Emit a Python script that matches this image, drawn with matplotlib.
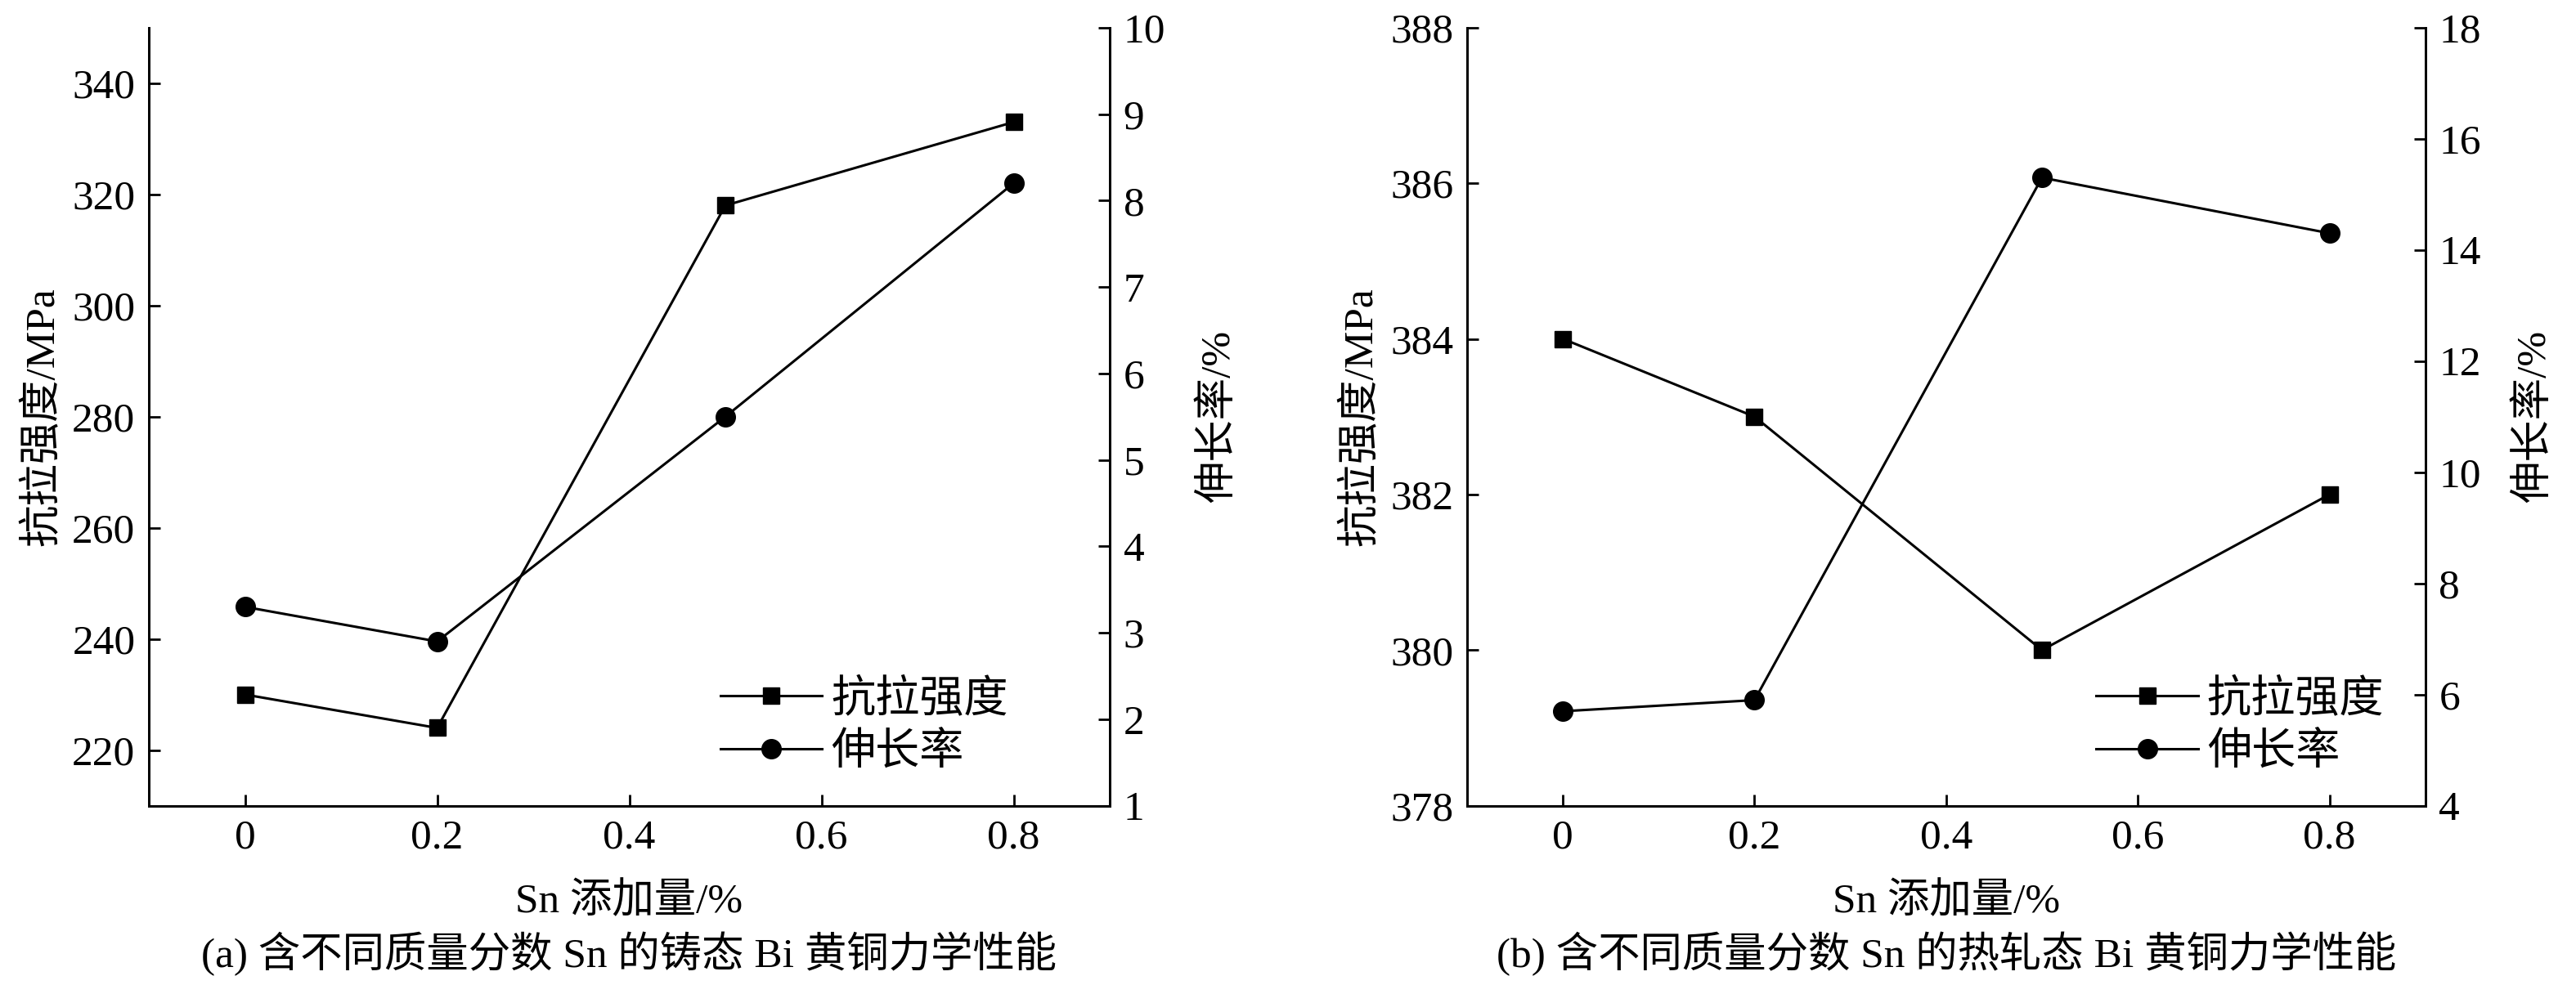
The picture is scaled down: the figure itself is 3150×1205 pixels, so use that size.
import numpy as np
import matplotlib
matplotlib.use("Agg")
import matplotlib.pyplot as plt

plt.rcParams["font.family"] = ["Liberation Serif", "Noto Sans CJK SC"]

sn = [0, 0.2, 0.5, 0.8]
x_ticks = [0, 0.2, 0.4, 0.6, 0.8]
x_ticklabels = ["0", "0.2", "0.4", "0.6", "0.8"]

# (a) cast state
cast_strength = [230, 224, 318, 333]
cast_elong = [3.3, 2.9, 5.5, 8.2]
# (b) hot-rolled state
rolled_strength = [384, 383, 380, 382]
rolled_elong = [5.7, 5.9, 15.3, 14.3]

panels = [
    dict(strength=cast_strength, elong=cast_elong,
         ylim=(210, 350), yticks=np.arange(220, 341, 20),
         y2lim=(1, 10), y2ticks=np.arange(1, 11, 1),
         caption="(a) 含不同质量分数 Sn 的铸态 Bi 黄铜力学性能",
         rect=[0.0578, 0.182, 0.373, 0.790], leg_x=0.553),
    dict(strength=rolled_strength, elong=rolled_elong,
         ylim=(378, 388), yticks=np.arange(378, 389, 2),
         y2lim=(4, 18), y2ticks=np.arange(4, 19, 2),
         caption="(b) 含不同质量分数 Sn 的热轧态 Bi 黄铜力学性能",
         rect=[0.5695, 0.182, 0.372, 0.790], leg_x=0.615),
]

fs = 37
lw = 2.2

fig = plt.figure(figsize=(31.5, 12.05), dpi=100)

for p in panels:
    ax = fig.add_axes(p["rect"])
    ax2 = ax.twinx()
    l1, = ax.plot(sn, p["strength"], color="black", lw=lw, marker="s",
                  markersize=15, label="抗拉强度")
    l2, = ax2.plot(sn, p["elong"], color="black", lw=lw, marker="o",
                   markersize=17, label="伸长率")
    ax.set_xlim(-0.1, 0.9)
    ax.set_ylim(*p["ylim"])
    ax2.set_ylim(*p["y2lim"])
    ax.set_xticks(x_ticks)
    ax.set_xticklabels(x_ticklabels)
    ax.set_yticks(p["yticks"])
    ax2.set_yticks(p["y2ticks"])
    for a in (ax, ax2):
        a.spines["top"].set_visible(False)
        for s in a.spines.values():
            s.set_linewidth(2)
        a.tick_params(direction="in", length=10, width=2, labelsize=fs, pad=12)
    ax.set_ylabel("抗拉强度/MPa", fontsize=fs, labelpad=8)
    ax2.set_ylabel("伸长率/%", fontsize=fs, labelpad=30)
    ax.set_xlabel("Sn 添加量/%", fontsize=fs, labelpad=22)
    ax.text(0.5, -0.19, p["caption"], transform=ax.transAxes, ha="center",
            va="center", fontsize=fs)
    ax2.legend([l1, l2], ["抗拉强度", "伸长率"], loc="lower left",
               bbox_to_anchor=(p["leg_x"], -0.01), frameon=False, fontsize=39,
               handlelength=2.3, handletextpad=0.2, labelspacing=0.25)

fig.savefig("out.png", dpi=100)
